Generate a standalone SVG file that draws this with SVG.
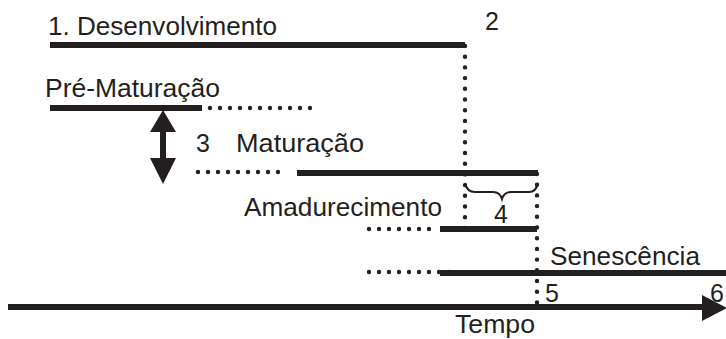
<svg xmlns="http://www.w3.org/2000/svg" width="726" height="339" viewBox="0 0 726 339">
<style>
text{font-family:"Liberation Sans",Arial,sans-serif;font-size:25px;fill:#231f20}
.solid{stroke:#231f20;stroke-width:6;fill:none}
.dot{stroke:#231f20;stroke-width:4.4;stroke-linecap:round;stroke-dasharray:0 10;fill:none}
.vdot{stroke:#231f20;stroke-width:4.4;stroke-linecap:round;stroke-dasharray:0 10.7;fill:none}
</style>
<rect width="726" height="339" fill="#fff"/>
<g id="desenvolvimento">
<line class="solid" x1="50" y1="45" x2="465" y2="45"/>
<text x="48" y="35" textLength="229" lengthAdjust="spacingAndGlyphs">1. Desenvolvimento</text>
<text x="485" y="30">2</text>
</g>
<g id="pre-maturacao">
<line class="solid" x1="50" y1="108" x2="202" y2="108"/>
<line class="dot" x1="210" y1="108" x2="320" y2="108"/>
<text x="45" y="97" textLength="175" lengthAdjust="spacingAndGlyphs">Pré-Maturação</text>
</g>
<g id="arrow3">
<line class="solid" x1="163" y1="128" x2="163" y2="162"/>
<polygon points="163,110 150,132 176,132" fill="#231f20"/>
<polygon points="150,158 176,158 163,184" fill="#231f20"/>
<text x="196" y="152">3</text>
</g>
<g id="maturacao">
<line class="dot" x1="198" y1="172" x2="288" y2="172"/>
<line class="solid" x1="297" y1="173" x2="538" y2="173"/>
<text x="236" y="152" textLength="128" lengthAdjust="spacingAndGlyphs">Maturação</text>
</g>
<g id="amadurecimento">
<line class="dot" x1="369" y1="229" x2="432" y2="229"/>
<line class="solid" x1="440" y1="229" x2="537" y2="229"/>
<text x="244" y="216" textLength="198" lengthAdjust="spacingAndGlyphs">Amadurecimento</text>
</g>
<g id="senescencia">
<line class="dot" x1="369" y1="272" x2="459" y2="272"/>
<line class="solid" x1="440" y1="273" x2="726" y2="273"/>
<text x="550" y="265" textLength="150" lengthAdjust="spacingAndGlyphs">Senescência</text>
</g>
<g id="brace4">
<path d="M465,183 Q467,192 475,192 L493,192 Q500,192 502,199 Q504,192 511,192 L529,192 Q536,192 538,183" stroke="#231f20" stroke-width="2" fill="none"/>
<text x="494" y="223">4</text>
</g>
<g id="tempo">
<line class="solid" x1="8" y1="307" x2="705" y2="307"/>
<polygon points="702,295 727,308 702,321" fill="#231f20"/>
<text x="545" y="302">5</text>
<text x="710" y="302">6</text>
<text x="455" y="333" textLength="80" lengthAdjust="spacingAndGlyphs">Tempo</text>
</g>
<g id="connectors">
<line class="vdot" x1="465" y1="46" x2="465" y2="238"/>
<line class="vdot" x1="537" y1="174" x2="537" y2="303"/>
</g>
</svg>
